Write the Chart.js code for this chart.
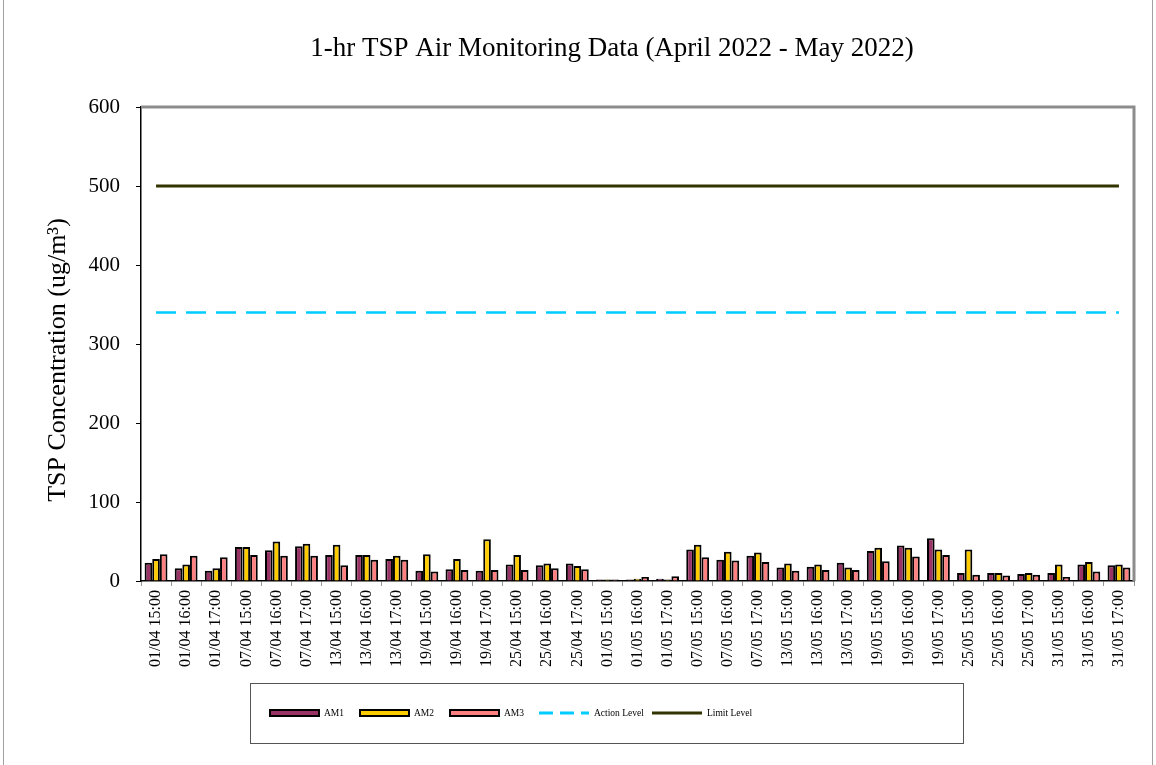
<!DOCTYPE html>
<html>
<head>
<meta charset="utf-8">
<script src="https://cdn.jsdelivr.net/npm/chart.js@4.4.0/dist/chart.umd.min.js"></script>
<style>
body{margin:0;background:#fff;}
#wrap{position:absolute;left:0;top:0;width:1156px;height:765px;}
#frame{position:absolute;left:3px;top:-2px;width:1150px;height:770px;border:1px solid #a0a0a0;box-sizing:border-box;pointer-events:none;}
</style>
</head>
<body>
<div id="wrap"><canvas id="c" width="1156" height="765"></canvas><div id="frame"></div></div>
<script>
const labels = ['01/04 15:00','01/04 16:00','01/04 17:00','07/04 15:00','07/04 16:00','07/04 17:00',
  '13/04 15:00','13/04 16:00','13/04 17:00','19/04 15:00','19/04 16:00','19/04 17:00',
  '25/04 15:00','25/04 16:00','25/04 17:00','01/05 15:00','01/05 16:00','01/05 17:00',
  '07/05 15:00','07/05 16:00','07/05 17:00','13/05 15:00','13/05 16:00','13/05 17:00',
  '19/05 15:00','19/05 16:00','19/05 17:00','25/05 15:00','25/05 16:00','25/05 17:00',
  '31/05 15:00','31/05 16:00','31/05 17:00'];
const am1 = [23,16,13,43,39,44,33,33,28,13,15,13,21,20,22,2,2,3,40,27,32,17,18,23,38,45,54,10,10,9,10,21,20];
const am2 = [28,21,16,43,50,47,46,33,32,34,28,53,33,22,19,2,3,2,46,37,36,22,21,17,42,42,40,40,10,10,21,24,21];
const am3 = [34,32,30,33,32,32,20,27,27,12,14,14,14,16,15,2,5,6,30,26,24,13,14,14,25,31,33,8,7,8,5,12,17];
const actionLevel = 340;
const limitLevel = 500;
const yTicks = [0,100,200,300,400,500,600];
const chartTitle = '1-hr TSP Air Monitoring Data (April 2022 - May 2022)';
const yTitle = 'TSP Concentration (ug/m³)';

const serif = "'Liberation Serif', 'Times New Roman', serif";

// titles, grey box round plot area and the legend
const extras = {
  id: 'extras',
  beforeDatasetsDraw(chart) {
    const ctx = chart.ctx, a = chart.chartArea;
    ctx.save();
    ctx.strokeStyle = '#8c8c8c';
    ctx.lineWidth = 3;
    ctx.beginPath();
    ctx.moveTo(a.left, a.top);
    ctx.lineTo(a.right, a.top);
    ctx.lineTo(a.right, a.bottom);
    ctx.stroke();
    ctx.restore();
  },
  afterDraw(chart) {
    const ctx = chart.ctx;
    ctx.save();
    ctx.fillStyle = '#000';
    ctx.textAlign = 'center';
    ctx.textBaseline = 'middle';
    ctx.font = '27px ' + serif;
    ctx.fillText(chartTitle, 612, 49);
    ctx.save();
    ctx.translate(58, 360);
    ctx.rotate(-Math.PI / 2);
    ctx.font = '26px ' + serif;
    ctx.fillText(yTitle, 0, 0);
    ctx.restore();

    ctx.strokeStyle = '#555';
    ctx.lineWidth = 1;
    ctx.strokeRect(250.5, 683.5, 713, 60);
    ctx.font = '9.5px ' + serif;
    ctx.textAlign = 'left';
    const y = 713;
    const xs = [269, 359, 449, 539, 652];
    chart.data.datasets.forEach((ds, i) => {
      const x = xs[i];
      if (ds.type === 'line') {
        ctx.strokeStyle = ds.borderColor;
        ctx.lineWidth = 3;
        ctx.setLineDash(ds.label === 'Action Level' ? [14, 7] : []);
        ctx.beginPath();
        ctx.moveTo(x, y);
        ctx.lineTo(x + 50, y);
        ctx.stroke();
        ctx.setLineDash([]);
      } else {
        ctx.fillStyle = '#000';
        ctx.fillRect(x, y - 4, 51, 8);
        ctx.fillStyle = ds.backgroundColor;
        ctx.fillRect(x + 2, y - 2, 47, 4);
      }
      ctx.fillStyle = '#000';
      ctx.fillText(ds.label, x + 55, y);
    });
    ctx.restore();
  }
};

new Chart(document.getElementById('c'), {
  data: {
    labels: labels,
    datasets: [
      {type:'bar', label:'AM1', data:am1, backgroundColor:'#993366', borderColor:'#000', borderWidth:2, borderSkipped:'bottom', order:2},
      {type:'bar', label:'AM2', data:am2, backgroundColor:'#ffcc00', borderColor:'#000', borderWidth:2, borderSkipped:'bottom', order:2},
      {type:'bar', label:'AM3', data:am3, backgroundColor:'#ff8080', borderColor:'#000', borderWidth:2, borderSkipped:'bottom', order:2},
      {type:'line', label:'Action Level', data:labels.map(() => actionLevel), borderColor:'#00ccff', borderWidth:2.5, borderDash:[20,10], pointRadius:0, fill:false, order:1},
      {type:'line', label:'Limit Level', data:labels.map(() => limitLevel), borderColor:'#333300', borderWidth:3, pointRadius:0, fill:false, order:1}
    ]
  },
  options: {
    responsive: false,
    animation: false,
    layout: {padding: {left: 0, right: 22, top: 107, bottom: 0}},
    datasets: {bar: {categoryPercentage: 0.76, barPercentage: 1.0}},
    plugins: {
      legend: {display: false},
      tooltip: {enabled: false},
      title: {display: false}
    },
    scales: {
      x: {
        grid: {display: true, drawOnChartArea: false, offset: true, tickLength: 5, color: '#999'},
        border: {color: '#000', width: 1.5},
        ticks: {color: '#000', font: {family: serif, size: 16}, maxRotation: 90, minRotation: 90, autoSkip: false, padding: 4},
        afterFit(s) { s.height = 184; }
      },
      y: {
        min: 0, max: 600,
        afterBuildTicks(s) { s.ticks = yTicks.map(v => ({value: v})); },
        grid: {display: true, drawOnChartArea: false, tickLength: 5, color: '#000'},
        border: {color: '#000', width: 1.5},
        ticks: {color: '#000', font: {family: serif, size: 21}, padding: 16},
        afterFit(s) { s.width = 141; }
      }
    }
  },
  plugins: [extras]
});
</script>
</body>
</html>
